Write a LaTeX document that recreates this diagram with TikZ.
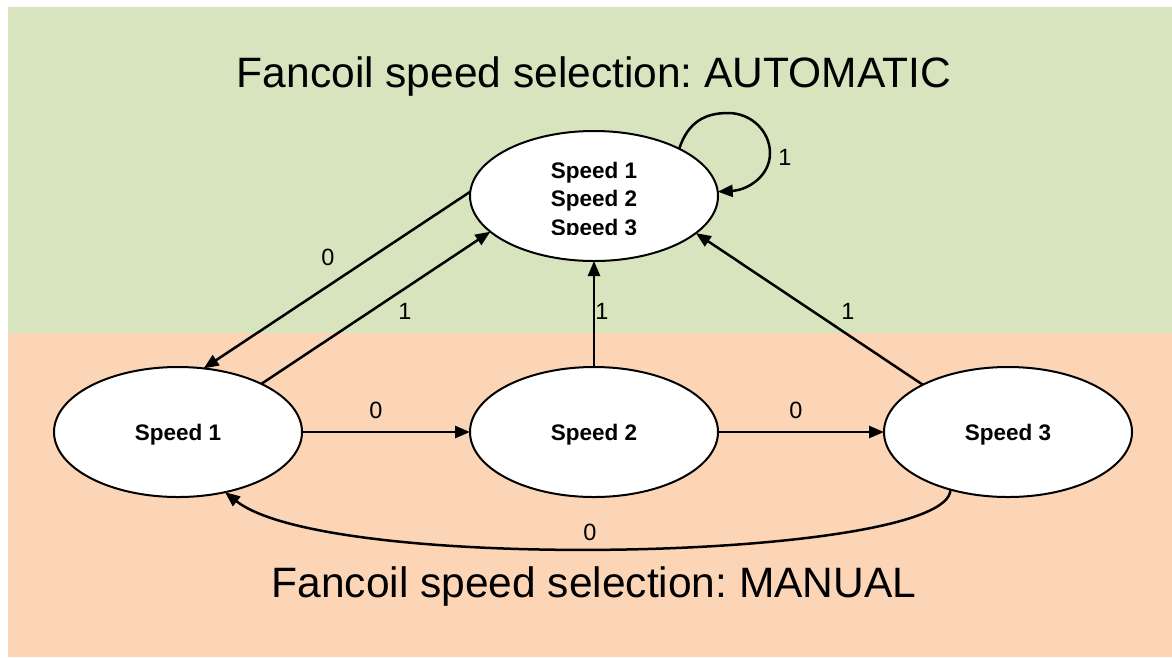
\documentclass[tikz,border=0pt]{standalone}
\usepackage{fontspec}
\setmainfont{Liberation Sans}
\usetikzlibrary{arrows.meta,shapes.geometric}
\definecolor{autogreen}{HTML}{D7E4BD}
\definecolor{manorange}{HTML}{FBD5B5}
\frenchspacing
\begin{document}
\begin{tikzpicture}[x=1pt,y=-1pt,
  state/.style={ellipse, draw, line width=2pt, fill=white, minimum width=248pt, minimum height=130pt, inner sep=0pt, outer sep=0pt},
  stxt/.style={font=\fontsize{22.5}{28}\selectfont\bfseries, inner sep=0pt, anchor=base},
  conn/.style={line width=2.5pt, -{Triangle[length=15pt,width=12pt]}},
  lbl/.style={font=\fontsize{23.5}{28}\selectfont, inner sep=0pt},
  title/.style={font=\fontsize{42.5}{50}\selectfont, inner sep=0pt, anchor=base}]
\useasboundingbox (0,0) rectangle (1172,657);
\fill[autogreen] (8,7) rectangle (1172,333);
\fill[manorange] (8,333) rectangle (1172,657);

\node[title] (ttop) at (594,87) {Fancoil speed selection: AUTOMATIC};
\node[title] (tbot) at (594,597) {Fancoil speed selection: MANUAL};

\node[state] (top) at (594,196) {};
\node[state] (s1) at (178,432) {};
\node[state] (s2) at (594,432) {};
\node[state] (s3) at (1008,432) {};
\node[stxt] (s1t) at (178,440) {Speed 1};
\node[stxt] (s2t) at (594,440) {Speed 2};
\node[stxt] (s3t) at (1008,440) {Speed 3};

\begin{scope}
\clip (470,140) rectangle (720,234);
\node[stxt] (tt1) at (594,178) {Speed 1};
\node[stxt] (tt2) at (594,206) {Speed 2};
\node[stxt] (tt3) at (594,235) {Speed 3};
\end{scope}

\draw[conn] (top.178) -- (s1.68);
\draw[conn] (s1.30) -- (top.199);
\draw[conn] (s2.north) -- (top.south);
\draw[conn] (s3.151) -- (top.340);
\draw[conn] (s1.east) -- (s2.west);
\draw[conn] (s2.east) -- (s3.west);
\draw[conn] (s3.225) .. controls (950,560) and (330,575) .. (s1.308);
\draw[conn] (top.29) .. controls (688,122) and (705,113) .. (728,113)
  .. controls (752,113) and (770,132) .. (770,153)
  .. controls (770,176) and (748,190) .. (top.2);

\node[lbl] (l1) at (328,257) {0};
\node[lbl] (l2) at (405,311) {1};
\node[lbl] (l3) at (602,311) {1};
\node[lbl] (l4) at (848,311) {1};
\node[lbl] (l5) at (376,410) {0};
\node[lbl] (l6) at (796,410) {0};
\node[lbl] (l7) at (590,532) {0};
\node[lbl] (l8) at (785,157) {1};
\end{tikzpicture}
\end{document}
